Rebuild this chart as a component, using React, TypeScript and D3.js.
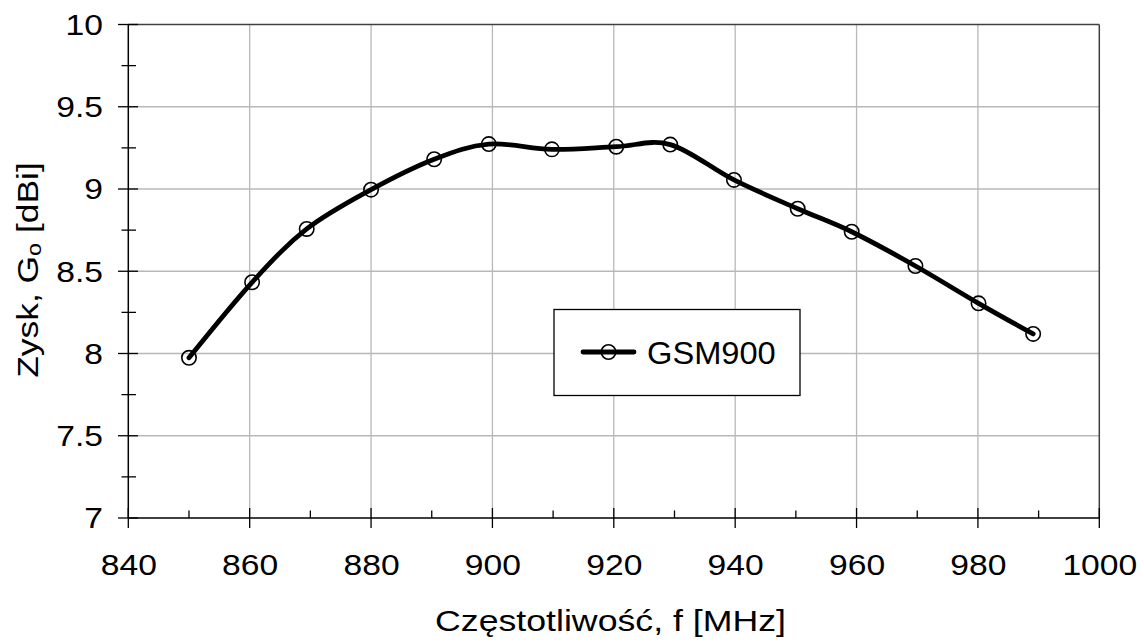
import React from "react";
import * as d3 from "d3";

const freq = [850, 860.4, 869.4, 880, 890.4, 899.4, 909.8, 920.4, 929.3, 939.8, 950.3, 959.2, 969.7, 980.1, 989.1];
const gain = [7.974, 8.433, 8.757, 8.996, 9.181, 9.273, 9.241, 9.257, 9.27, 9.055, 8.88, 8.74, 8.532, 8.305, 8.119];
const xTicks = [840, 860, 880, 900, 920, 940, 960, 980, 1000];
const xMinor = [850, 870, 890, 910, 930, 950, 970, 990];
const yTicks = [7, 7.5, 8, 8.5, 9, 9.5, 10];
const yMinor = [7.25, 7.75, 8.25, 8.75, 9.25, 9.75];
const seriesName = "GSM900";

const W = 1144, H = 642;
const L = 128.3, R = 1099.3, T = 24.5, B = 518;
const FONT = "'Liberation Sans', Arial, Helvetica, sans-serif";
const SX = 1.16;

export default function App() {
  const x = d3.scaleLinear().domain([840, 1000]).range([L, R]);
  const y = d3.scaleLinear().domain([7, 10]).range([B, T]);
  const pts: [number, number][] = freq.map((f, i) => [x(f), y(gain[i])]);
  const line = d3.line().curve(d3.curveCardinal.tension(0))(pts) || "";
  const fmt = (v: number) => String(v);

  return (
    <svg width={W} height={H} style={{ position: "absolute", left: 0, top: 0, background: "#fff" }} fontFamily={FONT}>
      <rect x={0} y={0} width={W} height={H} fill="#fff" />
      {/* grid */}
      {xTicks.slice(1, -1).map((t) => (
        <line key={"gx" + t} x1={x(t)} x2={x(t)} y1={T} y2={B} stroke="#b8b8b8" strokeWidth={1.3} />
      ))}
      {yTicks.slice(1, -1).map((t) => (
        <line key={"gy" + t} x1={L} x2={R} y1={y(t)} y2={y(t)} stroke="#b8b8b8" strokeWidth={1.3} />
      ))}
      {/* border top/right */}
      <line x1={L} x2={R} y1={T} y2={T} stroke="#404040" strokeWidth={1.5} />
      <line x1={R} x2={R} y1={T} y2={B} stroke="#404040" strokeWidth={1.5} />
      {/* axes */}
      <line x1={L} x2={L} y1={T} y2={B} stroke="#000" strokeWidth={1.5} />
      <line x1={L} x2={R} y1={B} y2={B} stroke="#000" strokeWidth={1.5} />
      {yTicks.map((t) => (
        <line key={"ty" + t} x1={118} x2={138} y1={y(t)} y2={y(t)} stroke="#000" strokeWidth={1.3} />
      ))}
      {yMinor.map((t) => (
        <line key={"tym" + t} x1={121.5} x2={136} y1={y(t)} y2={y(t)} stroke="#000" strokeWidth={1.3} />
      ))}
      {xTicks.map((t) => (
        <line key={"tx" + t} x1={x(t)} x2={x(t)} y1={508} y2={528} stroke="#000" strokeWidth={1.3} />
      ))}
      {xMinor.map((t) => (
        <line key={"txm" + t} x1={x(t)} x2={x(t)} y1={510.5} y2={B} stroke="#000" strokeWidth={1.3} />
      ))}
      {/* tick labels */}
      {yTicks.map((t) => (
        <text key={"ly" + t} transform={`translate(103,${y(t) + 10.3}) scale(${SX},1)`} textAnchor="end" fontSize={29} fill="#000">
          {fmt(t)}
        </text>
      ))}
      {xTicks.map((t) => (
        <text key={"lx" + t} transform={`translate(${x(t) + 0.5},575) scale(${SX},1)`} textAnchor="middle" fontSize={29} fill="#000">
          {fmt(t)}
        </text>
      ))}
      {/* axis titles */}
      <text transform={`translate(610.5,631) scale(1.21,1)`} textAnchor="middle" fontSize={29.5} fill="#000">
        Częstotliwość, f [MHz]
      </text>
      <text transform={`translate(37.5,270) rotate(-90) scale(1.2,1)`} textAnchor="middle" fontSize={29.5} fill="#000">
        Zysk, G<tspan fontSize={19.5} dy={3}>o</tspan><tspan dy={-3}> [dBi]</tspan>
      </text>
      {/* series */}
      <path d={line} fill="none" stroke="#000" strokeWidth={4.8} strokeLinejoin="round" strokeLinecap="round" />
      {pts.map((p, i) => (
        <circle key={"c" + i} cx={p[0]} cy={p[1]} r={7.2} fill="none" stroke="#000" strokeWidth={1.6} />
      ))}
      {/* legend */}
      <rect x={554} y={309.5} width={246} height={86} fill="#fff" stroke="#000" strokeWidth={1.3} />
      <line x1={583} x2={634} y1={352} y2={352} stroke="#000" strokeWidth={4.8} strokeLinecap="round" />
      <circle cx={608.5} cy={352} r={7.2} fill="none" stroke="#000" strokeWidth={1.6} />
      <text transform="translate(647,364) scale(1.07,1)" fontSize={30.5} fill="#000">
        {seriesName}
      </text>
    </svg>
  );
}
